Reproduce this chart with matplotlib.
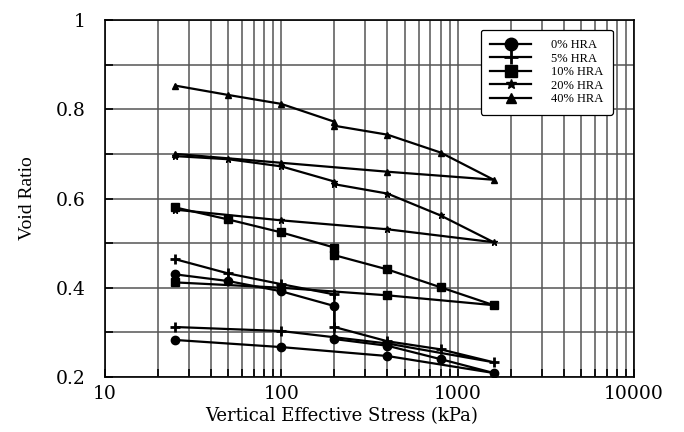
import numpy as np
import matplotlib
matplotlib.use("Agg")
import matplotlib.pyplot as plt
from matplotlib.ticker import LogLocator, NullFormatter, FixedLocator

# stress path: loading, collapse at 200 kPa, further loading, unloading
STRESS = [25, 50, 100, 200, 200, 400, 800, 1600, 400, 100, 25]

HRA_0 = [0.430, 0.415, 0.392, 0.359, 0.285, 0.270, 0.240, 0.209, 0.247, 0.267, 0.283]
HRA_5 = [0.464, 0.432, 0.408, 0.385, 0.312, 0.280, 0.262, 0.233, 0.275, 0.303, 0.312]
HRA_10 = [0.580, 0.553, 0.524, 0.490, 0.473, 0.441, 0.401, 0.361, 0.383, 0.400, 0.412]
HRA_20 = [0.695, 0.688, 0.672, 0.638, 0.632, 0.611, 0.562, 0.502, 0.531, 0.551, 0.575]
HRA_40 = [0.853, 0.832, 0.812, 0.772, 0.763, 0.743, 0.703, 0.642, 0.660, 0.680, 0.700]

LABELS = ['0% HRA', '5% HRA', '10% HRA', '20% HRA', '40% HRA']
SERIES = [HRA_0, HRA_5, HRA_10, HRA_20, HRA_40]
MARKERS = ['o', '+', 's', '*', '^']
MSIZE = [6, 7, 6, 5, 4.5]

X_TICKS = [10, 100, 1000, 10000]
X_TICK_LABELS = ['10', '100', '1000', '10000']
Y_TICKS = [0.2, 0.4, 0.6, 0.8, 1.0]
Y_TICK_LABELS = ['0.2', '0.4', '0.6', '0.8', '1']

fig = plt.figure(figsize=(6.84, 4.32), dpi=100)
ax = fig.add_axes([105/684, 55/432, 529/684, 357/432])

for vals, lab, mk, ms in zip(SERIES, LABELS, MARKERS, MSIZE):
    ax.plot(STRESS, vals, color='black', lw=1.6, marker=mk, ms=ms,
            mew=2 if mk == '+' else 1, label=lab, zorder=3)

ax.set_xscale('log')
ax.set_xlim(10, 10000)
ax.set_ylim(0.2, 1.0)

ax.xaxis.set_major_locator(FixedLocator(X_TICKS))
ax.set_xticklabels(X_TICK_LABELS)
ax.xaxis.set_minor_locator(LogLocator(base=10, subs=np.arange(2, 10)))
ax.xaxis.set_minor_formatter(NullFormatter())
ax.set_yticks(Y_TICKS)
ax.set_yticklabels(Y_TICK_LABELS)
ax.set_yticks([0.3, 0.5, 0.7, 0.9], minor=True)

ax.grid(which='both', color='#555555', lw=1.1)
ax.tick_params(which='both', direction='in', length=6, width=1.2)
ax.tick_params(axis='y', pad=14)
ax.tick_params(axis='x', pad=6)
for lbl in ax.get_xticklabels() + ax.get_yticklabels():
    lbl.set_fontfamily('DejaVu Serif')
    lbl.set_fontsize(13.5)
for sp in ax.spines.values():
    sp.set_linewidth(1.2)
    sp.set_color('black')

ax.set_xlabel('Vertical Effective Stress (kPa)', family='DejaVu Serif', fontsize=13)
ax.xaxis.set_label_coords(0.448, -0.085)
ax.set_ylabel('Void Ratio', family='Liberation Serif', fontsize=14)
ax.yaxis.set_label_coords(-0.13, 0.5)

leg = ax.legend(loc='upper right', bbox_to_anchor=(0.96, 0.972), borderaxespad=0,
                prop={'family': 'Liberation Serif', 'size': 9},
                handlelength=3.3, handletextpad=1.6, labelspacing=0.12,
                borderpad=0.75, markerscale=1.5, fancybox=True, framealpha=1)
leg.get_frame().set_edgecolor('black')
leg.get_frame().set_linewidth(0.9)

fig.savefig('out.png', dpi=100)
